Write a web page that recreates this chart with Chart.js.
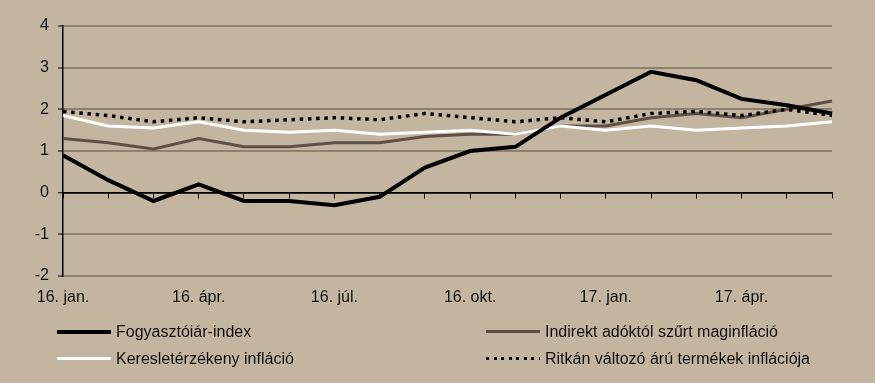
<!DOCTYPE html>
<html>
<head>
<meta charset="utf-8">
<script src="https://cdn.jsdelivr.net/npm/chart.js@4/dist/chart.umd.min.js"></script>
<style>
  html, body { margin:0; padding:0; background:#c3b59f; }
  #wrap { position:relative; width:875px; height:383px; }
  canvas { position:absolute; left:0; top:0; }
  .leg { position:absolute; font-family:"Liberation Sans", Arial, sans-serif; font-size:16px; color:#111; white-space:nowrap; line-height:18px; }
  .smp { position:absolute; width:54px; }
</style>
</head>
<body>
<div id="wrap">
  <canvas id="c" width="875" height="383"></canvas>
</div>
<script>
const categories = ["16. jan.","16. febr.","16. márc.","16. ápr.","16. máj.","16. jún.","16. júl.","16. aug.","16. szept.","16. okt.","16. nov.","16. dec.","17. jan.","17. febr.","17. márc.","17. ápr.","17. máj.","17. jún."];
const tickLabels = ["16. jan.","","","16. ápr.","","","16. júl.","","","16. okt.","","","17. jan.","","","17. ápr.","",""];
const seriesNames = ["Fogyasztóiár-index","Indirekt adóktól szűrt maginfláció","Keresletérzékeny infláció","Ritkán változó árú termékek inflációja"];
const cpi      = [0.9, 0.3, -0.2, 0.2, -0.2, -0.2, -0.3, -0.1, 0.6, 1.0, 1.1, 1.8, 2.35, 2.9, 2.7, 2.25, 2.1, 1.9];
const coreAdj  = [1.3, 1.2, 1.05, 1.3, 1.1, 1.1, 1.2, 1.2, 1.35, 1.4, 1.4, 1.6, 1.6, 1.8, 1.9, 1.8, 2.0, 2.2];
const demand   = [1.85, 1.6, 1.55, 1.7, 1.5, 1.45, 1.5, 1.4, 1.45, 1.5, 1.4, 1.6, 1.5, 1.6, 1.5, 1.55, 1.6, 1.7];
const sticky   = [1.95, 1.85, 1.7, 1.8, 1.7, 1.75, 1.8, 1.75, 1.9, 1.8, 1.7, 1.8, 1.7, 1.9, 1.95, 1.85, 2.0, 1.85];
const yMin = -2, yMax = 4;

const font = { family: "'Liberation Sans', Arial, sans-serif", size: 16 };
const gridCol = '#8f8170';

new Chart(document.getElementById('c'), {
  type: 'line',
  data: {
    labels: categories,
    datasets: [
      { label: seriesNames[0], data: cpi, borderColor: '#000', borderWidth: 4, pointRadius: 0, tension: 0, order: 0 },
      { label: seriesNames[1], data: coreAdj, borderColor: '#5e5046', borderWidth: 3, pointRadius: 0, tension: 0, order: 3 },
      { label: seriesNames[2], data: demand, borderColor: '#ffffff', borderWidth: 3, pointRadius: 0, tension: 0, order: 2 },
      { label: seriesNames[3], data: sticky, borderColor: '#000', borderWidth: 3.5, borderDash: [3.5, 4.7], borderCapStyle: 'butt', pointRadius: 0, tension: 0, order: 1 }
    ]
  },
  options: {
    responsive: false,
    animation: false,
    events: [],
    layout: { padding: { top: 26, right: 43, bottom: 0, left: 0 } },
    plugins: { legend: { display: false }, tooltip: { enabled: false } },
    scales: {
      x: {
        type: 'category',
        position: 'bottom',
        offset: false,
        grid: { display: false, drawTicks: false },
        border: { display: false },
        ticks: {
          autoSkip: false, maxRotation: 0, minRotation: 0, padding: 12,
          color: '#111', font: font,
          callback: (v, i) => tickLabels[i]
        },
        afterFit: (s) => { s.height = 383 - 276; }
      },
      x0: {
        type: 'category',
        position: { y: 0 },
        offset: false,
        grid: { drawOnChartArea: false, drawTicks: true, tickLength: 5, color: '#000', lineWidth: 1 },
        border: { display: true, color: '#000', width: 1.5 },
        ticks: { display: false, autoSkip: false }
      },
      y: {
        min: yMin, max: yMax,
        position: 'left',
        grid: {
          color: (ctx) => ctx.tick && ctx.tick.value === 0 ? '#000' : gridCol,
          lineWidth: (ctx) => ctx.tick && ctx.tick.value === 0 ? 1.5 : 2,
          tickColor: '#000', tickLength: 5, tickWidth: 1
        },
        border: { display: true, color: '#000', width: 1.5 },
        ticks: { stepSize: 1, padding: 9, color: '#111', font: font },
        afterFit: (s) => { s.width = 63; }
      }
    }
  }
});

// HTML legend (colours mirror the dataset styles)
const legendItems = [
  { name: seriesNames[0], x: 57, y: 332, css: 'border-top:4px solid #000;' },
  { name: seriesNames[1], x: 486, y: 332, css: 'border-top:3px solid #5e5046;' },
  { name: seriesNames[2], x: 57, y: 359, css: 'border-top:3px solid #fff;' },
  { name: seriesNames[3], x: 486, y: 359, css: 'height:3px; background: repeating-linear-gradient(90deg,#000 0 3px,transparent 3px 7.5px);' }
];
const wrap = document.getElementById('wrap');
legendItems.forEach(it => {
  const s = document.createElement('div');
  s.className = 'smp';
  s.style.cssText = 'left:' + it.x + 'px; top:' + (it.y - 2) + 'px;' + it.css;
  wrap.appendChild(s);
  const t = document.createElement('div');
  t.className = 'leg';
  t.textContent = it.name;
  t.style.left = (it.x + 59) + 'px';
  t.style.top = (it.y - 9) + 'px';
  wrap.appendChild(t);
});
</script>
</body>
</html>
